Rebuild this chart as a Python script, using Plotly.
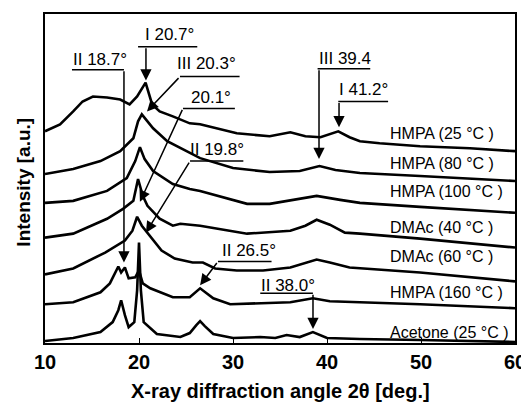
import plotly.graph_objects as go

# ---- data (x = 2theta in deg, y = intensity in a.u., curves stacked) ----
hmpa25_x = [10.0, 11.6, 13.0, 14.0, 15.1, 16.6, 18.0, 19.0, 19.8, 20.7, 21.4, 22.2, 23.6, 25.4, 26.5, 30.4, 33.9, 36.1, 37.7, 39.3, 41.2, 42.4, 43.5, 45.6, 49.9, 55.2, 60.0]
hmpa25_y = [213, 220, 233, 243, 248, 247, 245, 240, 248, 262, 240, 233, 228, 221, 220, 211, 208, 212, 208, 207, 213, 207, 203, 201, 198, 196, 193]

hmpa80_x = [10.0, 13.0, 15.9, 18.0, 19.4, 19.9, 20.3, 20.7, 21.5, 23.0, 24.4, 26.5, 30.0, 33.9, 37.1, 39.2, 40.9, 43.5, 49.9, 60.0]
hmpa80_y = [170, 175, 183, 193, 206, 223, 230, 225, 216, 203, 196, 186, 176, 172, 173, 178, 174, 171, 168, 163]

hmpa100_x = [10.0, 13.0, 16.6, 18.7, 19.6, 20.1, 20.6, 21.5, 23.6, 25.4, 26.5, 31.5, 33.9, 36.6, 38.9, 41.4, 43.5, 49.9, 60.0]
hmpa100_y = [141, 143, 153, 166, 183, 197, 185, 173, 160, 155, 153, 140, 140, 144, 148, 144, 141, 137, 131]

dmac40_x = [10.0, 13.0, 16.6, 18.3, 19.4, 19.9, 20.4, 20.9, 22.2, 23.6, 24.4, 26.5, 31.5, 36.1, 37.7, 38.9, 40.3, 41.9, 43.5, 49.9, 60.0]
dmac40_y = [106, 110, 125, 135, 143, 165, 148, 138, 125, 118, 120, 118, 110, 113, 118, 124, 119, 111, 110, 105, 96]

dmac60_x = [10.0, 13.0, 16.4, 18.5, 19.3, 19.8, 20.3, 21.0, 22.4, 23.8, 25.7, 26.8, 28.1, 30.4, 33.2, 36.1, 37.9, 38.9, 40.3, 42.4, 49.9, 60.0]
dmac60_y = [69, 75, 91, 103, 113, 127, 118, 110, 93, 85, 81, 81, 75, 73, 73, 76, 81, 84, 81, 76, 71, 62]

hmpa160_x = [10.0, 13.0, 15.9, 16.9, 17.8, 18.1, 18.5, 18.9, 19.6, 20.0, 20.4, 21.2, 23.6, 25.4, 26.5, 27.9, 29.7, 33.2, 36.1, 38.5, 40.3, 49.9, 60.0]
hmpa160_y = [39, 41, 51, 60, 77, 71, 76, 65, 66, 73, 60, 55, 46, 46, 55, 45, 39, 40, 41, 45, 42, 39, 35]

acetone_x = [10.0, 13.0, 15.9, 17.2, 17.8, 18.1, 18.5, 18.9, 19.5, 19.8, 20.0, 20.2, 20.5, 21.9, 24.4, 25.4, 26.1, 26.5, 27.0, 27.9, 30.0, 32.9, 34.5, 35.7, 37.1, 38.5, 40.0, 43.5, 49.9, 60.0]
acetone_y = [2, 5, 11, 21, 33, 43, 28, 16, 21, 53, 101, 53, 21, 9, 6, 10, 18, 22, 17, 9, 5, 6, 5, 8, 6, 11, 5, 4, 3, 1]

curve_names = ["HMPA (25 °C )", "HMPA (80 °C )", "HMPA (100 °C )", "DMAc (40 °C )",
               "DMAc (60 °C )", "HMPA (160 °C )", "Acetone (25 °C )"]
curve_label_y = [211, 181, 152, 116, 87, 51, 11]

x_tick_vals = [10, 20, 30, 40, 50, 60]

# peak annotations text
peak_texts = ["I 20.7°", "II 18.7°", "III 20.3°", "20.1°", "II 19.8°", "III 39.4", "I 41.2°", "II 26.5°", "II 38.0°"]

FONT = "Arial, Liberation Sans, sans-serif"

fig = go.Figure()
series = [(hmpa25_x, hmpa25_y), (hmpa80_x, hmpa80_y), (hmpa100_x, hmpa100_y),
          (dmac40_x, dmac40_y), (dmac60_x, dmac60_y), (hmpa160_x, hmpa160_y),
          (acetone_x, acetone_y)]
for (xs, ys), name in zip(series, curve_names):
    fig.add_trace(go.Scatter(x=xs, y=ys, mode="lines", name=name,
                             line=dict(color="black", width=2.6), showlegend=False))

annotations = []
shapes = []

# curve labels on the right
for name, ly in zip(curve_names, curve_label_y):
    annotations.append(dict(x=46.5, y=ly, xref="x", yref="y", text=name, showarrow=False,
                            xanchor="left", yanchor="middle",
                            font=dict(family=FONT, size=16, color="black")))

# callout layout: (text x, text y, underline x0, x1, underline y, arrow start x, start y, tip x, tip y)
callouts = [
    (23.2, 310, 19.9, 26.2, 298, 20.74, 298, 20.74, 264),
    (15.85, 285, 12.87, 18.4, 275, 18.4, 275, 18.4, 81),
    (27.2, 281, 24.36, 30.7, 268, 24.36, 268, 20.85, 233),
    (27.7, 247, 24.68, 30.2, 236, 24.68, 236, 20.1, 142),
    (28.3, 195, 25.43, 31.1, 183, 25.43, 183, 20.74, 111),
    (41.9, 286, 39.0, 44.6, 276, 39.15, 276, 39.15, 185),
    (43.9, 255, 41.2, 46.5, 243, 41.28, 243, 41.28, 217),
    (31.7, 93, 28.4, 34.1, 82, 28.4, 82, 26.5, 58),
    (35.85, 58, 32.9, 38.5, 50, 38.51, 50, 38.51, 14),
]
for txt, c in zip(peak_texts, callouts):
    tx, ty, ux0, ux1, uy, sx, sy, px, py = c
    annotations.append(dict(x=tx, y=ty, xref="x", yref="y", text=txt, showarrow=False,
                            xanchor="center", yanchor="middle",
                            font=dict(family=FONT, size=17, color="black")))
    shapes.append(dict(type="line", xref="x", yref="y", x0=ux0, x1=ux1, y0=uy, y1=uy,
                       line=dict(color="black", width=1.5)))
    annotations.append(dict(x=px, y=py, ax=sx, ay=sy, xref="x", yref="y", axref="x", ayref="y",
                            text="", showarrow=True, arrowhead=2, arrowsize=1.5, arrowwidth=1.5,
                            arrowcolor="black", standoff=0))

# axis titles
annotations.append(dict(x=0.5, y=-0.145, xref="paper", yref="paper", text="<b>X-ray diffraction angle 2θ [deg.]</b>",
                        showarrow=False, xanchor="center", yanchor="middle",
                        font=dict(family=FONT, size=20, color="black")))
annotations.append(dict(x=-0.045, y=0.49, xref="paper", yref="paper", text="<b>Intensity [a.u.]</b>",
                        showarrow=False, xanchor="center", yanchor="middle", textangle=-90,
                        font=dict(family=FONT, size=19, color="black")))

# the page body keeps its default 8px margin (left/top), so the margins compensate
fig.update_layout(
    width=529, height=395,
    margin=dict(l=37, r=22, t=4, b=60),
    paper_bgcolor="white", plot_bgcolor="white",
    annotations=annotations, shapes=shapes,
    xaxis=dict(range=[10, 60], tickvals=x_tick_vals, ticktext=[str(v) for v in x_tick_vals],
               ticks="inside", ticklen=5, tickwidth=1, tickcolor="black",
               showline=True, linecolor="black", linewidth=1.5, mirror=True,
               showgrid=False, zeroline=False, ticklabeloverflow="allow",
               tickfont=dict(family=FONT, size=20, color="black", weight="bold")),
    yaxis=dict(range=[0, 331], showticklabels=False, ticks="",
               showline=True, linecolor="black", linewidth=1.5, mirror=True,
               showgrid=False, zeroline=False),
)

fig.write_html("out.html", config={"displayModeBar": False})
